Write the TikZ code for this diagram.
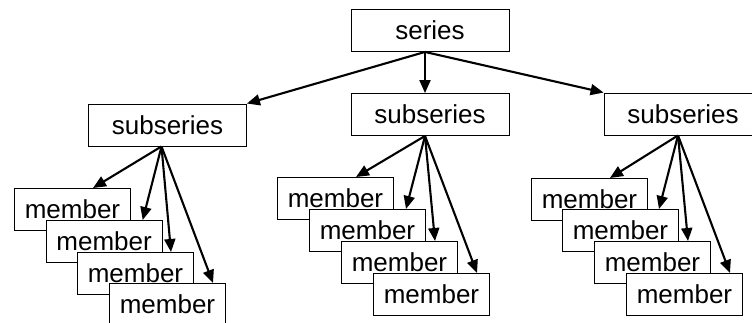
\documentclass[tikz,border=0pt]{standalone}
\usepackage{fontspec}
\setmainfont{Liberation Sans}
\usetikzlibrary{arrows.meta,calc}
\begin{document}
\begin{tikzpicture}[x=1pt,y=-1pt,
 box/.style={draw=black,line width=0.9pt,fill=white,minimum width=158pt,minimum height=42pt,inner sep=0pt,font=\fontsize{26}{30}\selectfont},
 mem/.style={box,minimum width=116pt,anchor=north west},
 arr/.style={line width=2.1pt,-{Triangle[length=13pt,width=11pt]}}]
\clip (0,0) rectangle (752,323);
% top
\node[box] (s) at (430,30.5) {series};
\node[box] (ls) at (167.5,125) {subseries};
\node[box] (ms) at (430,114.5) {subseries};
\node[box] (rs) at (683,114) {subseries};
% left members
\node[mem] (l1) at (14,188) {member};
\node[mem] (l2) at (45.7,220) {member};
\node[mem] (l3) at (77,252) {member};
\node[mem] (l4) at (109,283) {member};
% middle members
\node[mem] (m1) at (277,177) {member};
\node[mem] (m2) at (309,209) {member};
\node[mem] (m3) at (341,241) {member};
\node[mem] (m4) at (373,273) {member};
% right members
\node[mem] (r1) at (531,178) {member};
\node[mem] (r2) at (562,209) {member};
\node[mem] (r3) at (594,241) {member};
\node[mem] (r4) at (626,273) {member};
% source points
\coordinate (so) at ($(s.south)+(-5,0)$);
\coordinate (lso) at ($(ls.south)+(-6,0)$);
\coordinate (mso) at ($(ms.south)+(-5,0)$);
\coordinate (rso) at ($(rs.south)+(-5,0)$);
% series arrows
\draw[arr] (so) -- (ls.north east);
\draw[arr] (so) -- ($(ms.north)+(-5,0)$);
\draw[arr] (so) -- (rs.north west);
% member arrows
\foreach \g/\o in {l/lso,m/mso,r/rso}{
  \draw[arr] (\o) -- ($(\g1.north west)+(79,0)$);
  \draw[arr] (\o) -- ($(\g2.north west)+(97,0)$);
  \draw[arr] (\o) -- ($(\g3.north west)+(94,0)$);
  \draw[arr] (\o) -- ($(\g4.north west)+(104,0)$);
}
\end{tikzpicture}
\end{document}
